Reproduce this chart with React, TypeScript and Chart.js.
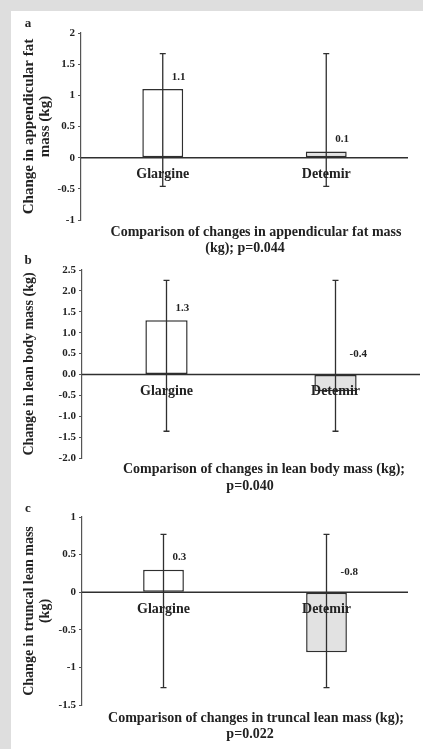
import { useEffect, useRef } from "react";
import { Chart, registerables } from "chart.js";

Chart.register(...registerables);

const FONT = '"Liberation Serif", "Times New Roman", Times, serif';
const INK = "#2f2f2f";

const categories = ["Glargine", "Detemir"];

// (a) appendicular fat mass
const fatValues = [1.1, 0.1];
const fatErrLow = [-0.46, -0.46];
const fatErrHigh = [1.67, 1.67];
const fatTicks = ["-1", "-0.5", "0", "0.5", "1", "1.5", "2"];
const fatTitle = ["Change in appendicular fat", "mass (kg)"];
const fatCaption = ["Comparison of changes in appendicular fat mass", "(kg); p=0.044"];

// (b) lean body mass
const leanValues = [1.3, -0.4];
const leanErrLow = [-1.36, -1.36];
const leanErrHigh = [2.25, 2.25];
const leanTicks = ["-2.0", "-1.5", "-1.0", "-0.5", "0.0", "0.5", "1.0", "1.5", "2.0", "2.5"];
const leanTitle = ["Change in lean body mass (kg)"];
const leanCaption = ["Comparison of changes in lean body mass (kg);", "p=0.040"];

// (c) truncal lean mass
const truncValues = [0.3, -0.8];
const truncErrLow = [-1.27, -1.27];
const truncErrHigh = [0.77, 0.77];
const truncTicks = ["-1.5", "-1", "-0.5", "0", "0.5", "1"];
const truncTitle = ["Change in truncal lean mass", "(kg)"];
const truncCaption = ["Comparison of changes in truncal lean mass (kg);", "p=0.022"];

const barFills = ["#ffffff", "#e2e2e2"];

type Panel = {
  letter: string;
  values: number[];
  errLow: number[];
  errHigh: number[];
  ticks: string[];
  title: string[];
  caption: string[];
  // layout of the canvas on the page and its plot area inside it
  top: number;
  height: number;
  pad: { left: number; top: number; right: number; bottom: number };
  letterPos: [number, number];
  titleX: number[];
  titleSize: number;
  captionPos: [number, number][];
};

const panels: Panel[] = [
  {
    letter: "a",
    values: fatValues,
    errLow: fatErrLow,
    errHigh: fatErrHigh,
    ticks: fatTicks,
    title: fatTitle,
    caption: fatCaption,
    top: 0,
    height: 255,
    pad: { left: 51, top: 33, right: 15, bottom: 35 },
    letterPos: [28, 24],
    titleX: [29, 45],
    titleSize: 15,
    captionPos: [
      [256, 232],
      [245, 248],
    ],
  },
  {
    letter: "b",
    values: leanValues,
    errLow: leanErrLow,
    errHigh: leanErrHigh,
    ticks: leanTicks,
    title: leanTitle,
    caption: leanCaption,
    top: 255,
    height: 240,
    pad: { left: 52, top: 15, right: 3, bottom: 37 },
    letterPos: [28, 6],
    titleX: [29],
    titleSize: 14,
    captionPos: [
      [264, 214],
      [250, 231],
    ],
  },
  {
    letter: "c",
    values: truncValues,
    errLow: truncErrLow,
    errHigh: truncErrHigh,
    ticks: truncTicks,
    title: truncTitle,
    caption: truncCaption,
    top: 495,
    height: 254,
    pad: { left: 52, top: 22, right: 15, bottom: 44 },
    letterPos: [28, 14],
    titleX: [29, 45],
    titleSize: 14,
    captionPos: [
      [256, 223],
      [250, 239],
    ],
  },
];

const Y_AXIS_WIDTH = 30;

function makeDecor(p: Panel) {
  return {
    id: "panelDecor",
    afterDatasetsDraw(chart: any) {
      const { ctx, chartArea, scales } = chart;
      const y = scales.y;
      const y0 = y.getPixelForValue(0);
      ctx.save();

      // zero line
      ctx.strokeStyle = INK;
      ctx.lineWidth = 1.5;
      ctx.beginPath();
      ctx.moveTo(chartArea.left, y0);
      ctx.lineTo(chartArea.right, y0);
      ctx.stroke();

      const meta = chart.getDatasetMeta(0);
      meta.data.forEach((bar: any, i: number) => {
        const cx = bar.x;
        const yh = y.getPixelForValue(p.errHigh[i]);
        const yl = y.getPixelForValue(p.errLow[i]);

        // error bar with caps
        ctx.strokeStyle = INK;
        ctx.lineWidth = 1.3;
        ctx.beginPath();
        ctx.moveTo(cx, yh);
        ctx.lineTo(cx, yl);
        ctx.moveTo(cx - 3, yh);
        ctx.lineTo(cx + 3, yh);
        ctx.moveTo(cx - 3, yl);
        ctx.lineTo(cx + 3, yl);
        ctx.stroke();

        // category name sitting just under the zero line
        ctx.fillStyle = "#222";
        ctx.font = `bold 14px ${FONT}`;
        ctx.textAlign = "center";
        ctx.textBaseline = "middle";
        ctx.fillText(categories[i], cx, y0 + 17);

        // value label
        const v = p.values[i];
        ctx.font = `bold 11px ${FONT}`;
        ctx.textAlign = "left";
        const ly = v >= 0 ? y.getPixelForValue(v) - 12 : y0 - 20;
        ctx.fillText(v.toFixed(1), cx + (v >= 0 ? 9 : 14), ly);
      });
      ctx.restore();
    },
    afterDraw(chart: any) {
      const { ctx, chartArea } = chart;
      ctx.save();
      ctx.fillStyle = "#222";

      // panel letter
      ctx.font = `bold 13px ${FONT}`;
      ctx.textAlign = "center";
      ctx.textBaseline = "middle";
      ctx.fillText(p.letter, p.letterPos[0], p.letterPos[1]);

      // rotated y-axis title
      const cy = (chartArea.top + chartArea.bottom) / 2;
      ctx.font = `bold ${p.titleSize}px ${FONT}`;
      p.title.forEach((line, i) => {
        ctx.save();
        ctx.translate(p.titleX[i], cy);
        ctx.rotate(-Math.PI / 2);
        ctx.textAlign = "center";
        ctx.textBaseline = "middle";
        ctx.fillText(line, 0, 0);
        ctx.restore();
      });

      // caption under the plot
      ctx.font = `bold 14px ${FONT}`;
      ctx.textAlign = "center";
      ctx.textBaseline = "middle";
      p.caption.forEach((line, i) => {
        ctx.fillText(line, p.captionPos[i][0], p.captionPos[i][1]);
      });
      ctx.restore();
    },
  };
}

function PanelChart({ p }: { p: Panel }) {
  const ref = useRef<HTMLCanvasElement | null>(null);

  useEffect(() => {
    if (!ref.current) return;
    const min = Number(p.ticks[0]);
    const max = Number(p.ticks[p.ticks.length - 1]);
    const chart = new Chart(ref.current, {
      type: "bar",
      data: {
        labels: categories,
        datasets: [
          {
            data: p.values,
            backgroundColor: barFills,
            borderColor: INK,
            borderWidth: 1.5,
            borderSkipped: false,
            categoryPercentage: 1,
            barPercentage: 0.25,
          },
        ],
      },
      options: {
        responsive: false,
        animation: false,
        devicePixelRatio: 1,
        layout: { padding: p.pad },
        plugins: {
          legend: { display: false },
          title: { display: false },
          tooltip: { enabled: false },
        },
        scales: {
          x: { display: false },
          y: {
            min,
            max,
            afterFit: (scale: any) => {
              scale.width = Y_AXIS_WIDTH;
            },
            afterBuildTicks: (scale: any) => {
              scale.ticks = p.ticks.map((t) => ({ value: Number(t) }));
            },
            ticks: {
              callback: (_v: any, i: number) => p.ticks[i],
              color: "#222",
              padding: 3,
              font: { family: FONT, size: 11, weight: "bold" },
            },
            grid: {
              drawOnChartArea: false,
              drawTicks: true,
              tickLength: 3,
              color: "#555",
              lineWidth: 1,
            },
            border: { display: true, color: "#555", width: 1.2 },
          },
        },
      },
      plugins: [makeDecor(p)],
    });
    return () => chart.destroy();
  }, [p]);

  return (
    <canvas
      ref={ref}
      width={423}
      height={p.height}
      style={{
        position: "absolute",
        left: 0,
        top: p.top,
        width: 423,
        height: p.height,
        display: "block",
      }}
    />
  );
}

export default function App() {
  return (
    <div
      style={{
        position: "absolute",
        left: 0,
        top: 0,
        width: 423,
        height: 749,
        background: "#dedede",
        overflow: "hidden",
      }}
    >
      <div
        style={{
          position: "absolute",
          left: 11,
          top: 11,
          right: 0,
          bottom: 0,
          background: "#ffffff",
        }}
      />
      {panels.map((p) => (
        <PanelChart key={p.letter} p={p} />
      ))}
    </div>
  );
}
